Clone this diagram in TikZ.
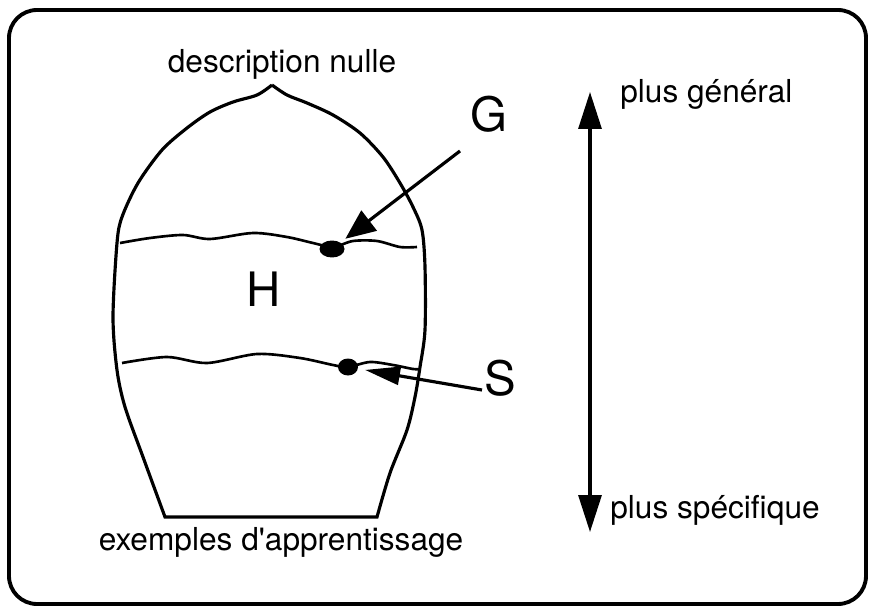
\documentclass[tikz,border=0pt]{standalone}
\usepackage{fontspec}
\setmainfont{TeX Gyre Heros}
\usetikzlibrary{arrows.meta,shapes.geometric}
\tikzset{
    lbl/.style={font=\fontsize{18}{20}\selectfont, inner sep=0pt},
    bigletter/.style={font=\fontsize{27}{30}\selectfont, inner sep=0pt},
    hypdot/.style={ellipse, fill=black, inner sep=0pt, minimum width=#1, minimum height=0.34cm},
    ptr/.style 2 args={line width=1.8pt, -{Triangle[length=#1, width=#2]}},
    wave/.style={line width=1.5pt}
}

\begin{document}
\begin{tikzpicture}[x=0.02cm, y=-0.02cm]
            \useasboundingbox (0,0) rectangle (869,608);
            % frame
            \draw [line width=2.2pt, rounded corners=0.56cm] (9,10) rectangle (866,604);
            % space of hypotheses
            \draw [line width=1.8pt] plot [smooth] coordinates {(272,85) (257,95) (233,102) (210,112) (187,128) (162,150) (138,183) (122,217) (117,243) (113,317) (117,370) (125,407) (143,457) (165,517)}
                -- (377,517)
                -- plot [smooth] coordinates {(377,517) (390,473) (407,430) (415,397) (420,367) (425,330) (425,267) (422,230) (413,207) (400,183) (383,157) (360,133) (333,115) (307,103) (287,95) (272,85)};
            \draw [wave] plot [smooth] coordinates {(120,243) (150,238) (183,235) (210,239) (253,233) (287,237) (313,243) (333,247) (353,241) (377,241) (400,247) (417,247)};
            \draw [wave] plot [smooth] coordinates {(122,363) (167,357) (207,363) (257,354) (300,358) (333,365) (348,367) (370,362) (393,365) (413,369) (420,369)};
            \node [hypdot=0.5cm] (gdot) at (332,249) {};
            \node [hypdot=0.4cm] (sdot) at (348,367) {};
            \node [lbl, anchor=base] (nulle) at (282,73) {description nulle};
            \node [lbl, anchor=base] (exemples) at (281,550) {exemples d\textquotesingle apprentissage};
            \node [bigletter] (H) at (264,289) {H};
            \node [bigletter] (G) at (489,114) {G};
            \node [bigletter] (S) at (500,378) {S};
            \coordinate (gtail) at (460,151);
            \coordinate (stail) at (482,390);
            \draw [ptr={0.6cm}{0.5cm}, shorten >=0.12cm] (gtail) -- (gdot);
            \draw [ptr={0.7cm}{0.36cm}, shorten >=0.14cm] (stail) -- (sdot);
            % ordering of the descriptions
            \coordinate (up) at (590,92);
            \coordinate (down) at (590,532);
            \draw [line width=1.8pt, {Triangle[length=0.74cm, width=0.46cm]}-{Triangle[length=0.74cm, width=0.46cm]}] (up) -- (down);
            \node [lbl, anchor=base west] (general) at (620,103) {plus général};
            \node [lbl, anchor=base west] (specifique) at (610,518) {plus spécifique};
        \end{tikzpicture}
\end{document}
